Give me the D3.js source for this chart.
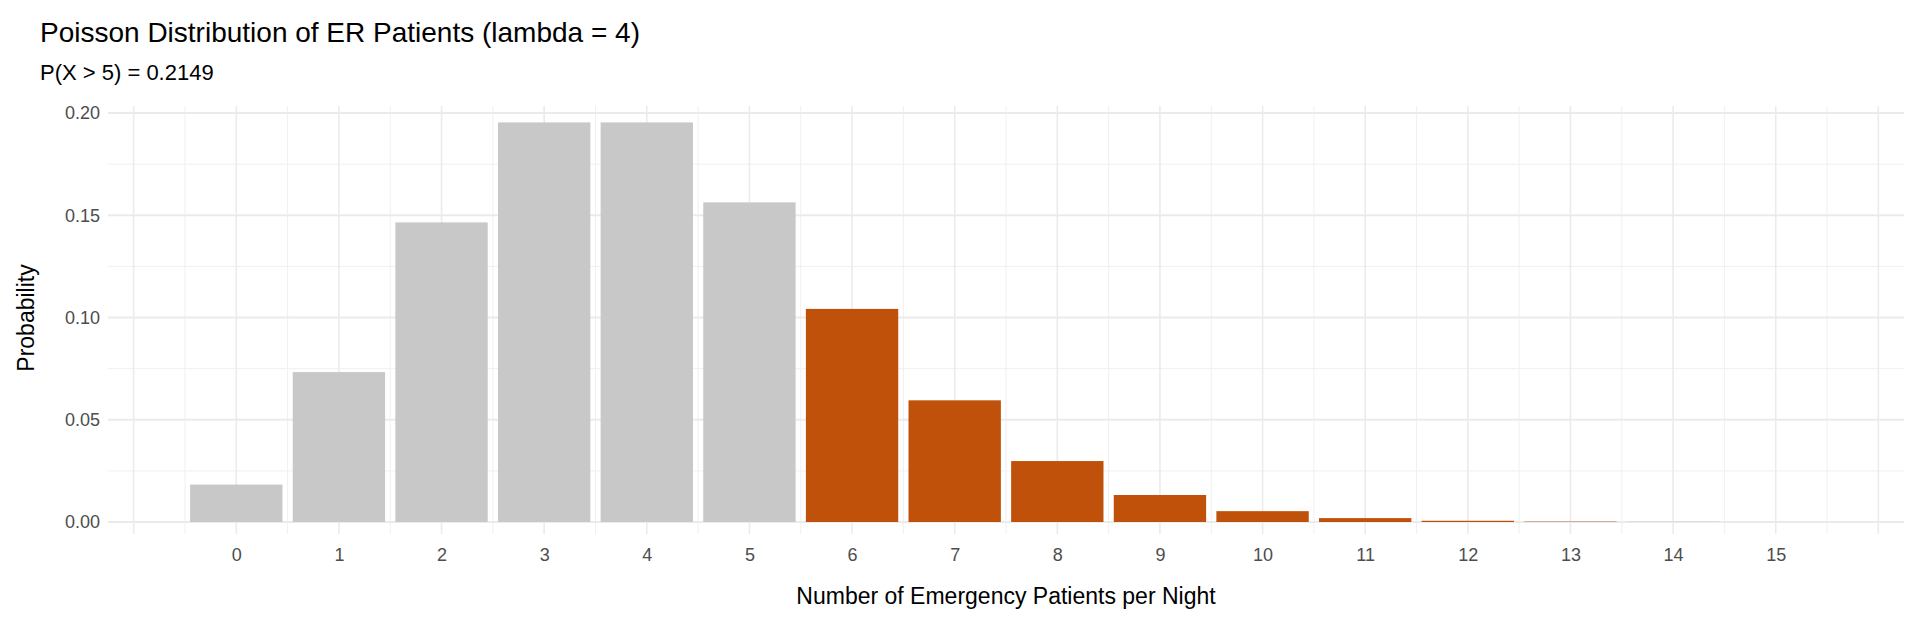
<!DOCTYPE html>
<html><head><meta charset="utf-8">
<script src="https://cdn.jsdelivr.net/npm/d3@7"></script>
<style>body{margin:0;background:#fff}text{font-family:"Liberation Sans",Arial,sans-serif}</style>
</head><body><svg id="c" width="1920" height="624"></svg>
<script>
const counts = [0,1,2,3,4,5,6,7,8,9,10,11,12,13,14,15];
const probs = [0.0183,0.0733,0.1465,0.1954,0.1954,0.1563,0.1042,0.0595,0.0298,0.0132,0.0053,0.0019,0.0006,0.0002,0.00005,0.00001];
const yTicks = [0,0.05,0.10,0.15,0.20];
const threshold = 5;
const title = "Poisson Distribution of ER Patients (lambda = 4)";
const subtitle = "P(X > 5) = 0.2149";

const svg = d3.select("#c");
const x = d3.scaleLinear().domain([-1.25,16.25]).range([108,1904]);
const y = d3.scaleLinear().domain([0,0.2]).range([522,113]);
const panelTop = 106, panelBottom = 534;
const g = svg.append("g");
d3.range(-0.5,16,1).forEach(v=>g.append("line").attr("x1",x(v)).attr("x2",x(v)).attr("y1",panelTop).attr("y2",panelBottom).attr("stroke","#f0f0f0").attr("stroke-width",1));
[0.025,0.075,0.125,0.175].forEach(v=>g.append("line").attr("x1",108).attr("x2",1904).attr("y1",y(v)).attr("y2",y(v)).attr("stroke","#f0f0f0").attr("stroke-width",1));
d3.range(-1,17,1).forEach(v=>g.append("line").attr("x1",x(v)).attr("x2",x(v)).attr("y1",panelTop).attr("y2",panelBottom).attr("stroke","#ebebeb").attr("stroke-width",1.6));
yTicks.forEach(v=>g.append("line").attr("x1",108).attr("x2",1904).attr("y1",y(v)).attr("y2",y(v)).attr("stroke","#ebebeb").attr("stroke-width",2.2));
g.selectAll("rect").data(counts).join("rect")
 .attr("x",d=>x(d-0.45)).attr("width",x(0.9)-x(0))
 .attr("y",(d,i)=>y(probs[i])).attr("height",(d,i)=>y(0)-y(probs[i]))
 .attr("fill",d=>d>threshold?"#C0510A":"#C8C8C8");
const xa = svg.append("g").attr("transform","translate(0,534)").call(d3.axisBottom(x).tickValues(counts).tickSize(0).tickPadding(14).tickFormat(d3.format("d")));
xa.select(".domain").remove();
xa.selectAll("text").attr("font-size",18).attr("fill","#4d4d4d").style("font-family","Liberation Sans");
const ya = svg.append("g").attr("transform","translate(100,0)").call(d3.axisLeft(y).tickValues(yTicks).tickSize(0).tickPadding(0).tickFormat(d3.format(".2f")));
ya.select(".domain").remove();
ya.selectAll("text").attr("font-size",18).attr("fill","#4d4d4d").style("font-family","Liberation Sans");
svg.append("text").attr("x",x(7.5)).attr("y",604).attr("text-anchor","middle").attr("font-size",23).attr("fill","#000").text("Number of Emergency Patients per Night");
svg.append("text").attr("transform","translate(34,318) rotate(-90)").attr("text-anchor","middle").attr("font-size",23).attr("fill","#000").text("Probability");
svg.append("text").attr("x",40).attr("y",42).attr("font-size",28).attr("fill","#000").text(title);
svg.append("text").attr("x",40).attr("y",80).attr("font-size",22).attr("fill","#000").text(subtitle);
</script></body></html>
